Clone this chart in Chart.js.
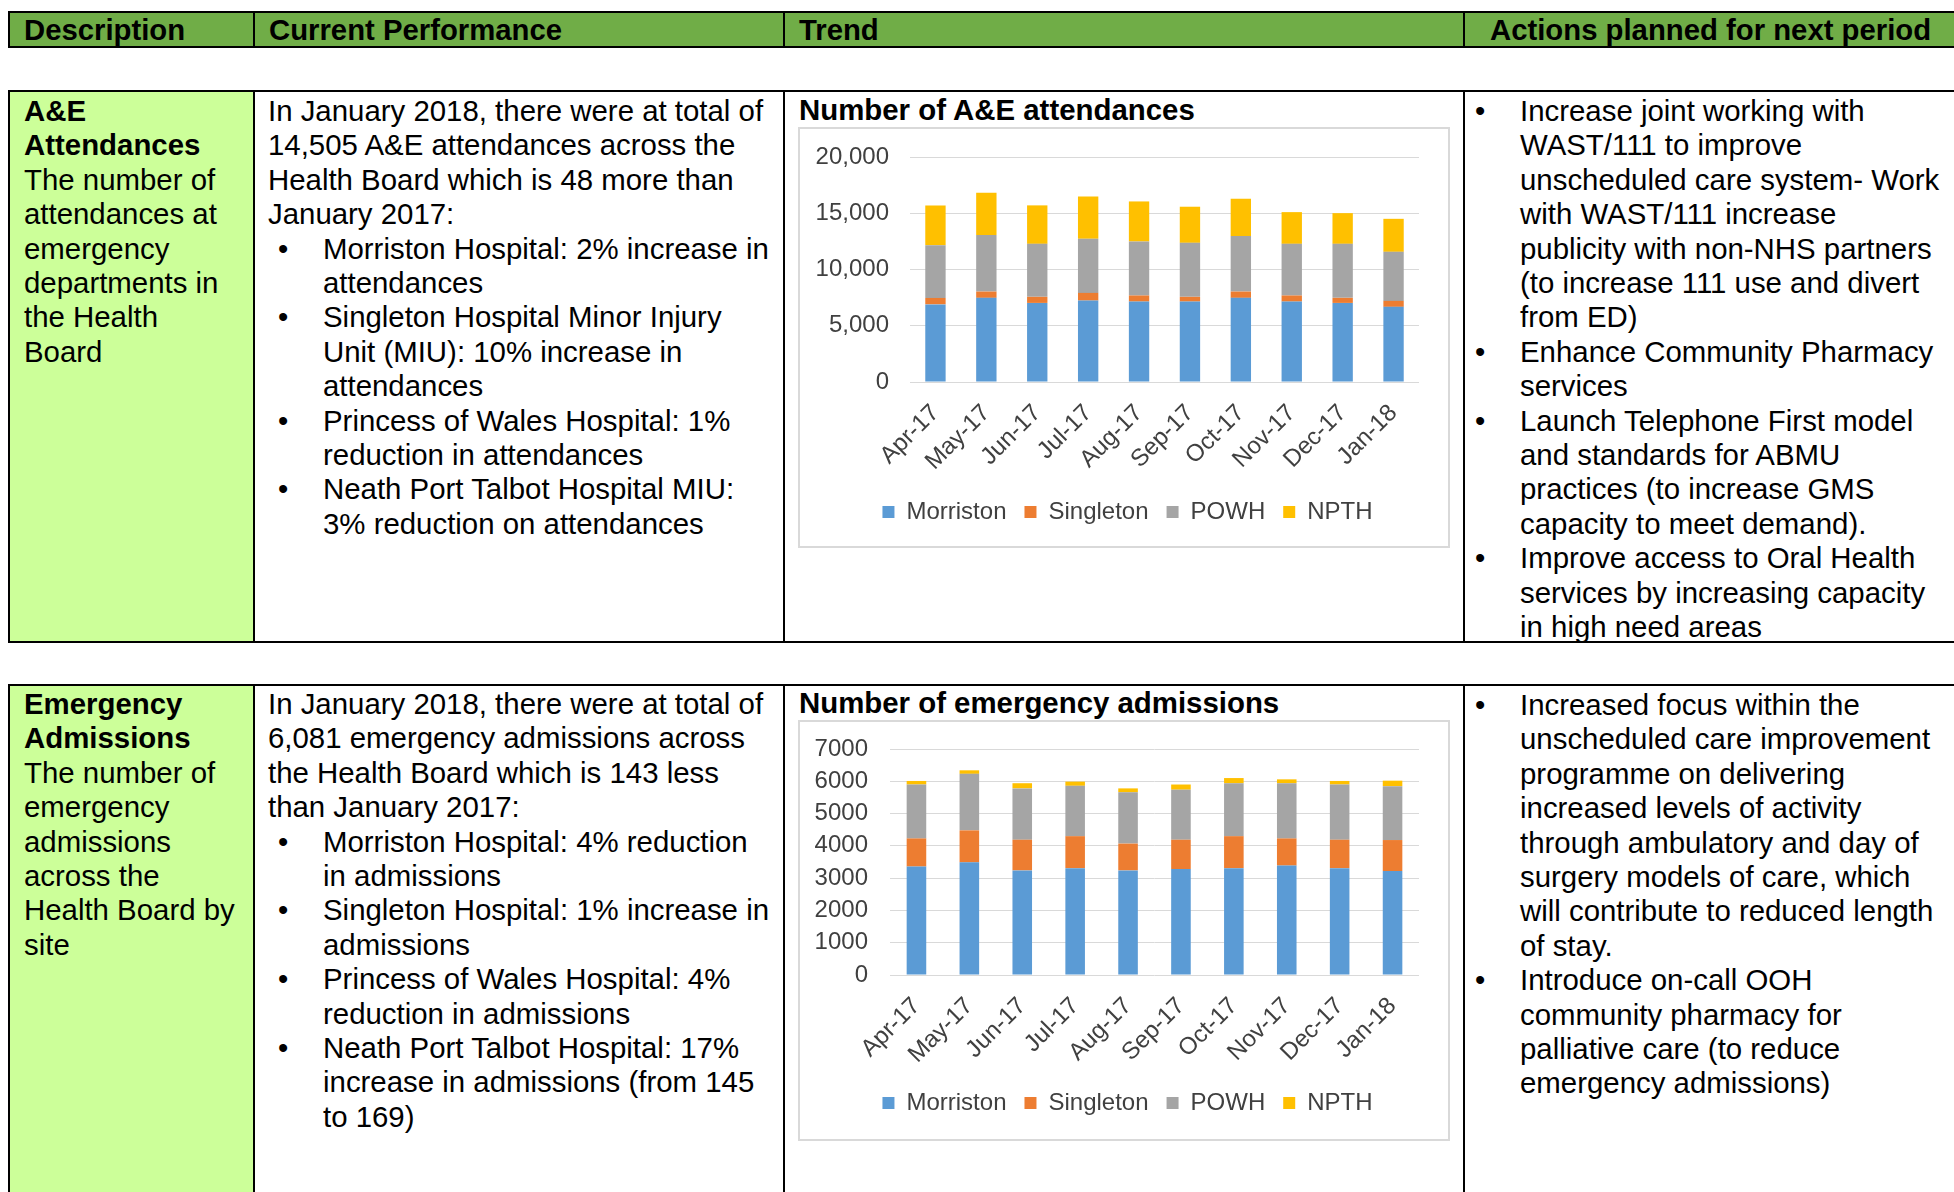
<!DOCTYPE html>
<html>
<head>
<meta charset="utf-8">
<script src="https://cdn.jsdelivr.net/npm/chart.js@4.4.1/dist/chart.umd.min.js"></script>
<style>
body{margin:0;width:1954px;height:1192px;overflow:hidden;background:#fff;position:relative;
  font-family:"Liberation Sans",Arial,sans-serif;color:#000}
.box{position:absolute;box-sizing:border-box}
.ln{position:absolute;font-size:29.4px;line-height:34.4px;white-space:nowrap}
.hl{position:absolute;font-size:29.3px;line-height:34.4px;font-weight:bold;white-space:nowrap;top:12.8px}
.vline{position:absolute;width:2px;background:#000}
.hline{position:absolute;height:2px;background:#000;left:8px;width:1946px}
.chartbox{position:absolute;left:798px;width:652px;height:421px;border:2px solid #d9d9d9;box-sizing:border-box}
canvas{position:absolute}
</style>
</head>
<body>

<!-- header -->
<div class="box" style="left:8px;top:11px;width:1946px;height:37px;background:#70AD47"></div>
<div class="hline" style="top:11px"></div>
<div class="hline" style="top:46px"></div>
<div class="vline" style="left:8px;top:11px;height:37px"></div>
<div class="vline" style="left:253px;top:11px;height:37px"></div>
<div class="vline" style="left:783px;top:11px;height:37px"></div>
<div class="vline" style="left:1463px;top:11px;height:37px"></div>
<div class="hl" style="left:24px">Description</div>
<div class="hl" style="left:269px">Current Performance</div>
<div class="hl" style="left:799px">Trend</div>
<div class="hl" style="left:1490px">Actions planned for next period</div>

<!-- row 1 -->
<div class="box" style="left:10px;top:92px;width:243px;height:549px;background:#CCFF99"></div>
<div class="hline" style="top:90px"></div>
<div class="hline" style="top:641px"></div>
<div class="vline" style="left:8px;top:90px;height:553px"></div>
<div class="vline" style="left:253px;top:90px;height:553px"></div>
<div class="vline" style="left:783px;top:90px;height:553px"></div>
<div class="vline" style="left:1463px;top:90px;height:553px"></div>

<!-- row 2 -->
<div class="box" style="left:10px;top:686px;width:243px;height:520px;background:#CCFF99"></div>
<div class="hline" style="top:684px"></div>
<div class="vline" style="left:8px;top:684px;height:520px"></div>
<div class="vline" style="left:253px;top:684px;height:520px"></div>
<div class="vline" style="left:783px;top:684px;height:520px"></div>
<div class="vline" style="left:1463px;top:684px;height:520px"></div>

<div class="ln" style="left:799px;top:92.8px;font-weight:bold">Number of A&amp;E attendances</div>
<div class="chartbox" style="top:127px"></div>
<canvas id="aeChart" width="648" height="417" style="left:800px;top:129px"></canvas>

<div class="ln" style="left:799px;top:685.8px;font-weight:bold">Number of emergency admissions</div>
<div class="chartbox" style="top:720px"></div>
<canvas id="emChart" width="648" height="417" style="left:800px;top:722px"></canvas>

<script>
// chart data
const months = ['Apr-17','May-17','Jun-17','Jul-17','Aug-17','Sep-17','Oct-17','Nov-17','Dec-17','Jan-18'];
const sites = ['Morriston','Singleton','POWH','NPTH'];
const siteColors = ['#5B9BD5','#ED7D31','#A5A5A5','#FFC000'];

const aeMorriston = [6900, 7480, 7030, 7240, 7150, 7150, 7480, 7150, 7030, 6680];
const aeSingleton = [570, 560, 540, 680, 540, 420, 560, 540, 450, 530];
const aePOWH      = [4690, 5020, 4710, 4810, 4800, 4800, 4930, 4590, 4800, 4360];
const aeNPTH      = [3530, 3760, 3420, 3770, 3560, 3210, 3320, 2820, 2730, 2935];
const aeTicks = [0, 5000, 10000, 15000, 20000];

const emMorriston = [3360, 3490, 3240, 3310, 3240, 3280, 3310, 3390, 3310, 3220];
const emSingleton = [870, 990, 950, 990, 830, 910, 990, 840, 880, 960];
const emPOWH      = [1670, 1750, 1590, 1560, 1590, 1550, 1640, 1710, 1710, 1670];
const emNPTH      = [110, 110, 160, 130, 120, 160, 160, 120, 110, 169];
const emTicks = [0, 1000, 2000, 3000, 4000, 5000, 6000, 7000];

// table text
const LH = 34.4;
function addLines(x, y, lines, dotX, indentX){
  lines.forEach((s, i) => {
    const d = document.createElement('div');
    d.className = 'ln';
    let left = x;
    const top = y + i*LH;
    if(s.startsWith('* ')){
      const b = document.createElement('div');
      b.className = 'ln'; b.textContent = '\u2022';
      b.style.left = dotX + 'px'; b.style.top = top + 'px';
      document.body.appendChild(b);
      s = s.slice(2); left = indentX;
    } else if(s.startsWith('  ')){
      s = s.slice(2); left = indentX;
    } else if(s.startsWith('# ')){
      s = s.slice(2); d.style.fontWeight = 'bold';
    }
    d.textContent = s;
    d.style.left = left + 'px'; d.style.top = top + 'px';
    document.body.appendChild(d);
  });
}

addLines(24, 94, ['# A&E','# Attendances','The number of','attendances at','emergency','departments in','the Health','Board']);
addLines(268, 94, [
  'In January 2018, there were at total of',
  '14,505 A&E attendances across the',
  'Health Board which is 48 more than',
  'January 2017:',
  '* Morriston Hospital: 2% increase in','  attendances',
  '* Singleton Hospital Minor Injury','  Unit (MIU): 10% increase in','  attendances',
  '* Princess of Wales Hospital: 1%','  reduction in attendances',
  '* Neath Port Talbot Hospital MIU:','  3% reduction on attendances'
], 278, 323);
addLines(1520, 94, [
  '* Increase joint working with','  WAST/111 to improve','  unscheduled care system- Work','  with WAST/111 increase',
  '  publicity with non-NHS partners','  (to increase 111 use and divert','  from ED)',
  '* Enhance Community Pharmacy','  services',
  '* Launch Telephone First model','  and standards for ABMU','  practices (to increase GMS','  capacity to meet demand).',
  '* Improve access to Oral Health','  services by increasing capacity','  in high need areas'
], 1475, 1520);

addLines(24, 687, ['# Emergency','# Admissions','The number of','emergency','admissions','across the','Health Board by','site']);
addLines(268, 687, [
  'In January 2018, there were at total of',
  '6,081 emergency admissions across',
  'the Health Board which is 143 less',
  'than January 2017:',
  '* Morriston Hospital: 4% reduction','  in admissions',
  '* Singleton Hospital: 1% increase in','  admissions',
  '* Princess of Wales Hospital: 4%','  reduction in admissions',
  '* Neath Port Talbot Hospital: 17%','  increase in admissions (from 145','  to 169)'
], 278, 323);
addLines(1520, 688, [
  '* Increased focus within the','  unscheduled care improvement','  programme on delivering','  increased levels of activity',
  '  through ambulatory and day of','  surgery models of care, which','  will contribute to reduced length','  of stay.',
  '* Introduce on-call OOH','  community pharmacy for','  palliative care (to reduce','  emergency admissions)'
], 1475, 1520);

// charts
Chart.defaults.font.family = '"Liberation Sans", Arial, sans-serif';
Chart.defaults.color = '#404040';

// Excel centres the legend on the whole chart box, not on the padded area
const legendShift = {
  id: 'legendShift',
  afterLayout(chart){ if(chart.legend){ chart.legend.left += 18; chart.legend.right += 18; } }
};

function stackedChart(id, series, ticks, yWidth, labelGap, padTop, xHeight, padBottom, barPct, fmt){
  const max = ticks[ticks.length-1];
  const step = ticks[1] - ticks[0];
  return new Chart(document.getElementById(id), {
    type: 'bar',
    data: {
      labels: months,
      datasets: series.map((d, i) => ({ label: sites[i], data: d, backgroundColor: siteColors[i],
        borderWidth: 0, categoryPercentage: 1, barPercentage: barPct }))
    },
    plugins: [legendShift],
    options: {
      responsive: false, animation: false,
      layout: { padding: { top: padTop, right: 29, bottom: padBottom, left: 0 } },
      plugins: {
        legend: { position: 'bottom',
          labels: { boxWidth: 12, boxHeight: 12, padding: 18, font: { size: 24 }, color: '#404040' } },
        tooltip: { enabled: false }
      },
      scales: {
        x: { stacked: true, grid: { display: false }, border: { display: false },
          ticks: { autoSkip: false, minRotation: 45, maxRotation: 45, padding: 9, font: { size: 24 } },
          afterFit: s => { s.height = xHeight; } },
        y: { stacked: true, min: 0, max: max,
          grid: { color: '#d9d9d9', tickLength: labelGap, tickColor: 'rgba(0,0,0,0)' },
          border: { display: false },
          ticks: { stepSize: step, padding: 0, font: { size: 24 }, callback: fmt },
          afterFit: s => { s.width = yWidth; } }
      }
    }
  });
}

stackedChart('aeChart', [aeMorriston, aeSingleton, aePOWH, aeNPTH], aeTicks, 110, 21, 28, 100, 12, 0.40,
  v => v.toLocaleString('en-US'));
stackedChart('emChart', [emMorriston, emSingleton, emPOWH, emNPTH], emTicks, 90, 22, 27, 98, 14, 0.37,
  v => String(v));
</script>
</body>
</html>
